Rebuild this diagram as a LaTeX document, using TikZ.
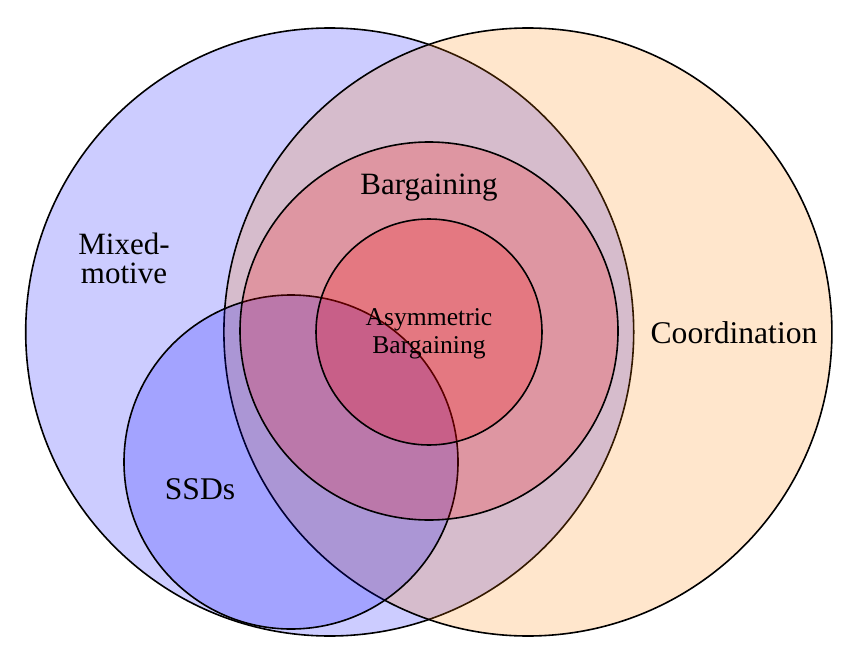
\documentclass[tikz,border=0pt]{standalone}
\usepackage{fontspec}
\setmainfont{Liberation Serif}
\begin{document}
\begin{tikzpicture}[x=0.5pt,y=-0.5pt,
  setc/.style={circle, draw=black, line width=0.8pt, inner sep=0pt, fill opacity=0.2},
  lbl/.style={align=center, text=black, inner sep=0pt}]
\useasboundingbox (0,0) rectangle (850,652);
\node[setc, fill=blue, minimum size=304pt] (mixed) at (329.7,332) {};
\node[setc, fill=orange, minimum size=304pt] (coord) at (527.9,332) {};
\node[setc, fill=blue, minimum size=167pt] (ssd) at (291,462) {};
\node[setc, fill=red, minimum size=189pt] (barg) at (429,331) {};
\node[setc, fill=red, minimum size=113pt] (asym) at (429,332) {};
\node[lbl, font=\fontsize{15.5pt}{14.5pt}\selectfont] (lmixed) at (124,258) {Mixed-\\motive};
\node[lbl, font=\fontsize{15.8pt}{16pt}\selectfont] (lcoord) at (734,333) {Coordination};
\node[lbl, font=\fontsize{15.5pt}{16pt}\selectfont] (lbarg) at (429,188) {Bargaining};
\node[lbl, font=\fontsize{12.8pt}{14pt}\selectfont] (lasym) at (429,334) {Asymmetric\\Bargaining};
\node[lbl, font=\fontsize{15.8pt}{16pt}\selectfont] (lssd) at (200,489) {SSDs};
\end{tikzpicture}
\end{document}
